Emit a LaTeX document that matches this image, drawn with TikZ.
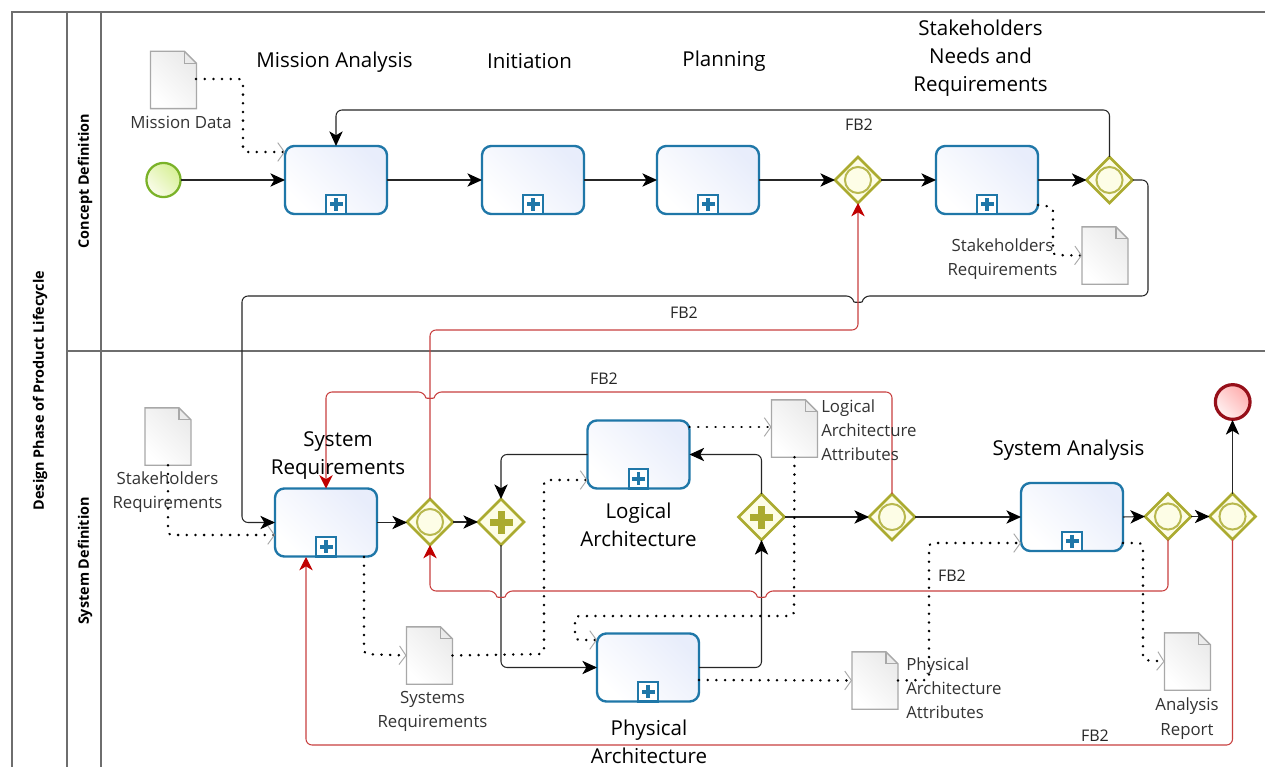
\documentclass[tikz,border=0pt]{standalone}
\usepackage{fontspec}
\setmainfont{Open Sans}
\usetikzlibrary{arrows.meta,shapes.geometric,calc}
\definecolor{lanecol}{HTML}{6E6E6E}
\definecolor{taskcol}{HTML}{1F77A8}
\definecolor{gwcol}{HTML}{ABAB30}
\definecolor{gwfill}{HTML}{FDFDE6}
\definecolor{redline}{HTML}{C8403F}
\definecolor{redtip}{HTML}{C00000}
\definecolor{docline}{HTML}{A8A8A8}
\tikzset{
  flow/.style={draw=black!85,line width=0.8pt,rounded corners=4.5pt,-{Stealth[length=11pt,width=10pt,inset=3pt,black]}},
  flowred/.style={draw=redline,line width=0.8pt,rounded corners=4.5pt,-{Stealth[length=10pt,width=10pt,inset=3pt,redtip]}},
  assoc/.style={draw=black,line width=2pt,line cap=round,dash pattern=on 0.1pt off 6.4pt,rounded corners=3pt,-{Straight Barb[length=5pt,width=14pt,line width=0.7pt,color=docline]}},
  taskbox/.style={draw=taskcol,line width=1.8pt,rounded corners=7pt,minimum width=76.5pt,minimum height=51pt,inner sep=0,outer sep=0,shade,left color=white,right color={rgb,255:red,232;green,237;blue,251},shading angle=135},
  gwbox/.style={diamond,draw=gwcol,line width=2pt,fill=gwfill,minimum width=34.5pt,minimum height=34.5pt,inner sep=0,outer sep=0},
  big/.style={font=\fontsize{15.4}{21}\selectfont,text=black,inner sep=0,align=center},
  small/.style={font=\fontsize{12.6}{18.2}\selectfont,text=black!80,inner sep=0,align=center},
  smallleft/.style={font=\fontsize{12.6}{18.2}\selectfont,text=black!80,inner sep=0,align=left,anchor=west},
  fb/.style={font=\fontsize{12}{14}\selectfont,text=black!85,inner sep=0},
  lanetitle/.style={font=\bfseries\fontsize{10.8}{12}\selectfont,text=black,rotate=90,inner sep=0},
  lane/.style={draw=lanecol,line width=0.9pt},
  docshape/.style={draw=docline,line width=1pt,left color=white,right color=black!8,shading angle=135},
}
\newcommand{\taskat}[3]{%
  \node[taskbox] (#1) at (#2,#3) {};
  \node[draw=taskcol,line width=1.6pt,fill=white,minimum size=14.5pt,inner sep=0,outer sep=0,anchor=south] (#1m) at (#1.south) {};
  \fill[taskcol] ($(#1m)+(-6.5,-1.9)$) rectangle ($(#1m)+(6.5,1.9)$);
  \fill[taskcol] ($(#1m)+(-1.9,-6.5)$) rectangle ($(#1m)+(1.9,6.5)$);
}
\newcommand{\gwat}[3]{%
  \node[gwbox] (#1) at (#2,#3) {};
  \draw[gwcol!85,line width=1.5pt,fill=gwfill] (#1) circle[radius=9.8pt];
}
\newcommand{\pgat}[3]{%
  \node[gwbox] (#1) at (#2,#3) {};
  \fill[gwcol] ($(#1)+(-11.5,-3.5)$) rectangle ($(#1)+(11.5,3.5)$);
  \fill[gwcol] ($(#1)+(-3.5,-11.5)$) rectangle ($(#1)+(3.5,11.5)$);
}
\newcommand{\docat}[3]{%
  \node[minimum width=34.5pt,minimum height=43pt,inner sep=0,outer sep=0] (#1) at (#2,#3) {};
  \path[docshape] (#1.north west) -- ($(#1.north east)+(-12,0)$) -- ($(#1.north east)+(0,12)$) -- (#1.south east) -- (#1.south west) -- cycle;
  \draw[docline,line width=0.8pt] ($(#1.north east)+(-12,0)$) -- ($(#1.north east)+(-12,12)$) -- ($(#1.north east)+(0,12)$);
}
\newcommand{\brg}[2]{-- ({#1+5.5},#2) .. controls ({#1+4},{#2+6.5}) and ({#1-4},{#2+6.5}) .. ({#1-5.5},#2)}
\begin{document}
\begin{tikzpicture}[x=0.75pt,y=-0.75pt]
\useasboundingbox (0,0) rectangle (1265,767);
\fill[white] (0,0) rectangle (1265,767);
% lanes
\draw[lane] (12,767) -- (12,12) -- (1265,12);
\draw[lane] (67,12) -- (67,767);
\draw[lane] (101,12) -- (101,767);
\draw[lane] (67,351) -- (1265,351);
\node[lanetitle] (ltitle) at (40,390.5) {Design Phase of Product Lifecycle};
\node[lanetitle] (lconcept) at (85,181) {Concept Definition};
\node[lanetitle] (lsystem) at (85,561) {System Definition};
% events
\node[circle,minimum size=25.5pt,inner sep=0,outer sep=0] (start) at (163.5,180) {};
\shade[left color={rgb,255:red,250;green,252;blue,235},right color={rgb,255:red,215;green,240;blue,150},shading angle=135,draw={rgb,255:red,122;green,178;blue,40},line width=1.7pt] (start) circle[radius=12.8pt];
\node[circle,minimum size=27pt,inner sep=0,outer sep=0] (endev) at (1232.7,402) {};
\shade[left color=red!5,right color=red!32,shading angle=135,draw={rgb,255:red,150;green,15;blue,25},line width=2.4pt] (endev) circle[radius=13pt];
% tasks
\taskat{mission}{336}{180}
\taskat{init}{533}{180}
\taskat{plan}{708}{180}
\taskat{stake}{987}{180}
\taskat{sysreq}{326}{522.5}
\taskat{logical}{638.5}{454.5}
\taskat{physical}{648}{667.5}
\taskat{analysis}{1072}{517}
% gateways
\gwat{g1}{858}{180}
\gwat{g2}{1109.5}{180}
\gwat{g3}{430}{522}
\pgat{p1}{501}{522}
\pgat{p2}{761.5}{517}
\gwat{g4}{892}{517}
\gwat{g5}{1168}{516.5}
\gwat{g6}{1232.5}{516.5}
% documents
\docat{dmission}{173.5}{80}
\docat{dstake}{1105}{255.5}
\docat{dsr}{168}{436.5}
\docat{dsys}{429.5}{655.5}
\docat{dlog}{794.5}{428.5}
\docat{dphys}{875}{680.5}
\docat{dana}{1187.5}{661.5}
% sequence flows
\draw[flow] (start) ++(12.8pt,0) -- (mission.west);
\draw[flow] (mission.east) -- (init.west);
\draw[flow] (init.east) -- (plan.west);
\draw[flow] (plan.east) -- (g1.west);
\draw[flow] (g1.east) -- (stake.west);
\draw[flow] (stake.east) -- (g2.west);
\draw[flow] (g2.north) -- (1109.5,110) -- (336,110) -- (mission.north);
\draw[flow] (g2.east) -- (1148,180) -- (1148,296) \brg{858}{296} -- (242,296) -- (242,522.5) -- (sysreq.west);
\draw[flow] (sysreq.east) -- (g3.west |- sysreq.east);
\draw[flow] (g3.east) -- (p1.west);
\draw[flow] (logical.west) -- (501,454.5) -- (p1.north);
\draw[flow] (p1.south) -- (501,667.5) -- (physical.west);
\draw[flow] (physical.east) -- (761.5,667.5) -- (p2.south);
\draw[flow] (p2.north) -- (761.5,454.5) -- (logical.east);
\draw[flow] (p2.east) -- (g4.west);
\draw[flow] (g4.east) -- (analysis.west);
\draw[flow] (analysis.east) -- (g5.west);
\draw[flow] (g5.east) -- (g6.west);
\draw[flow] (g6.north) -- (endev.south -| g6.north);
% feedback flows
\draw[flowred] (g3.north) -- (430,330) -- (858,330) -- (g1.south);
\draw[flowred] (g4.north) -- (892,392) \brg{430}{392} -- (326,392) -- (sysreq.north);
\draw[flowred] (g5.south) -- (1168,591) \brg{761.5}{591} \brg{501}{591} -- (430,591) -- (g3.south);
\draw[flowred] (g6.south) -- (1232.5,745) -- (306,745) -- (306,557);
% associations
\draw[assoc] (196,79) -- (243,79) -- (243,152) -- (mission.west |- 0,152);
\draw[assoc] (1038,205) -- (1053,207) -- (1053,255) -- (dstake.west);
\draw[assoc] (dsr.south) -- (168,535) -- (sysreq.west |- 0,535);
\draw[assoc] (364,557) -- (364,654) -- (dsys.west);
\draw[assoc] (dsys.east) -- (544,654) -- (544,480) -- (logical.west |- 0,480);
\draw[assoc] (logical.east |- 0,427) -- (dlog.west |- 0,427);
\draw[assoc] (dlog.south) -- (794,616) -- (575,616) -- (575,640) -- (physical.west |- 0,640);
\draw[assoc] (physical.east |- 0,680) -- (dphys.west);
\draw[assoc] (dphys.east) -- (929,680) -- (929,543) -- (analysis.west |- 0,543);
\draw[assoc] (analysis.east |- 0,543) -- (1143,543) -- (1143,660) -- (dana.west);
% titles
\node[big] (tmission) at (334.5,62.5) {Mission Analysis};
\node[big] (tinit) at (529.5,61) {Initiation};
\node[big] (tplan) at (724,61.5) {Planning};
\node[big] (tstake) at (980.5,58) {Stakeholders\\Needs and\\Requirements};
\node[big] (tsr) at (338,455.5) {System\\Requirements};
\node[big] (tlog) at (638.5,525) {Logical\\Architecture};
\node[big] (tphys) at (649,742) {Physical\\Architecture};
\node[big] (tana) at (1068.5,450.5) {System Analysis};
% document labels
\node[small] (lmission) at (181,122) {Mission Data};
\node[small] (lstake) at (1002.5,259) {Stakeholders\\Requirements};
\node[small] (ldsr) at (167.5,492) {Stakeholders\\Requirements};
\node[small] (ldsys) at (432.5,711.5) {Systems\\Requirements};
\node[smallleft] (ldlog) at (821,430) {Logical\\Architecture\\Attributes};
\node[smallleft] (ldphys) at (906,688) {Physical\\Architecture\\Attributes};
\node[small] (ldana) at (1187,718.5) {Analysis\\Report};
% flow labels
\node[fb] (fba) at (859,124.5) {FB2};
\node[fb] (fbb) at (684,312.5) {FB2};
\node[fb] (fbc) at (604,378.5) {FB2};
\node[fb] (fbd) at (952,575.5) {FB2};
\node[fb] (fbe) at (1095,735.5) {FB2};
\end{tikzpicture}
\end{document}
